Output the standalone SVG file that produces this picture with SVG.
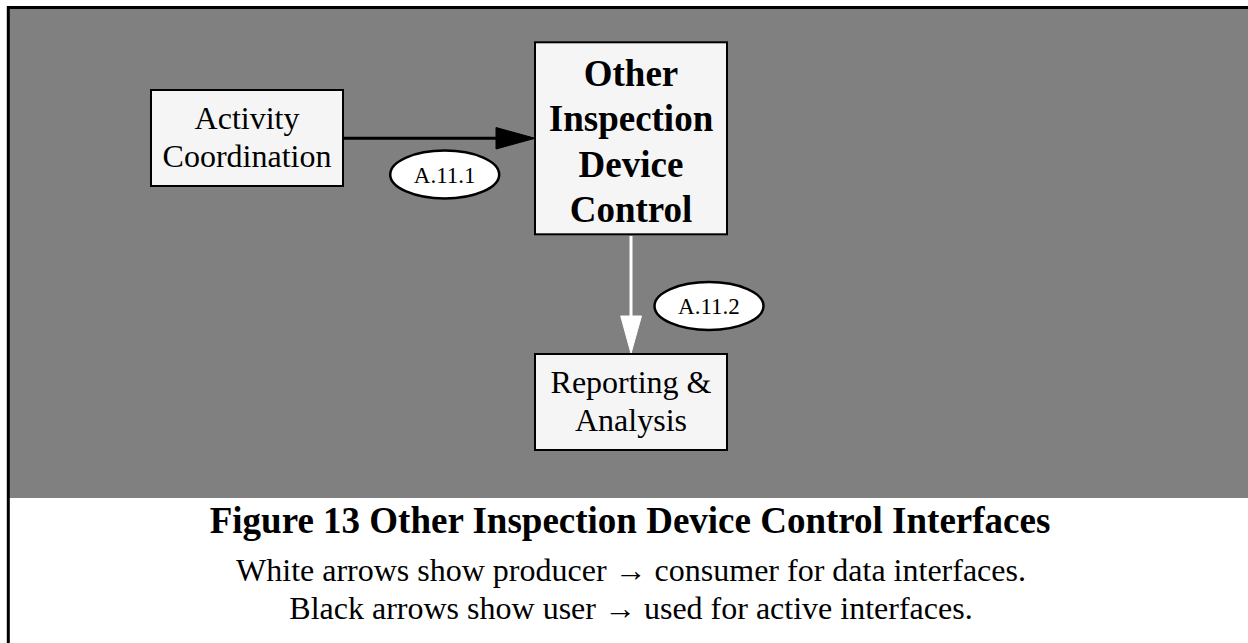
<svg xmlns="http://www.w3.org/2000/svg" width="1248" height="643" viewBox="0 0 1248 643">
<defs>
<style>
.box{fill:#f5f5f5;stroke:#000;stroke-width:2}
.lbl{fill:#fff;stroke:#000;stroke-width:2.5}
.t{font-family:"Liberation Serif","Times New Roman",serif;fill:#000;text-anchor:middle}
.reg{font-size:32px}
.bold{font-size:37px;font-weight:bold}
.small{font-size:23px}
</style>
</defs>
<rect x="0" y="0" width="1248" height="643" fill="#fff"/>
<rect x="9" y="9" width="1239" height="489" fill="#808080"/>
<path d="M8.3 643 V7.5 H1248" fill="none" stroke="#000" stroke-width="3"/>
<g id="connectors">
<g id="edge-a111">
<line x1="343" y1="138.3" x2="497" y2="138.3" stroke="#000" stroke-width="3"/>
<polygon points="496,127.5 535,138.3 496,149" fill="#000" stroke="#000" stroke-width="1"/>
</g>
<g id="edge-a112">
<line x1="631" y1="236" x2="631" y2="317" stroke="#fff" stroke-width="3"/>
<polygon points="620.7,316 641.5,316 631,353.5" fill="#fff" stroke="#fff" stroke-width="1"/>
</g>
</g>
<g id="node-activity">
<rect class="box" x="151" y="90" width="192" height="96"/>
<text class="t reg" x="247" y="129">Activity</text>
<text class="t reg" x="247" y="167.3">Coordination</text>
</g>
<g id="node-oidc">
<rect class="box" x="535" y="42.3" width="192" height="192"/>
<text class="t bold" x="631" y="86">Other</text>
<text class="t bold" x="631" y="130.7">Inspection</text>
<text class="t bold" x="631" y="176.5">Device</text>
<text class="t bold" x="631" y="221.7">Control</text>
</g>
<g id="node-reporting">
<rect class="box" x="535" y="354" width="192" height="96"/>
<text class="t reg" x="631" y="393.3">Reporting &amp;</text>
<text class="t reg" x="631" y="431">Analysis</text>
</g>
<g id="label-a111">
<ellipse class="lbl" cx="444.7" cy="174.5" rx="54.5" ry="24"/>
<text class="t small" x="444.7" y="182.5">A.11.1</text>
</g>
<g id="label-a112">
<ellipse class="lbl" cx="709" cy="306" rx="54.5" ry="24"/>
<text class="t small" x="709" y="314">A.11.2</text>
</g>
<g id="caption">
<text class="t" x="630" y="533.3" style="font-size:37px;font-weight:bold">Figure 13 Other Inspection Device Control Interfaces</text>
<text class="t" x="631" y="581" style="font-size:32px">White arrows show producer → consumer for data interfaces.</text>
<text class="t" x="631" y="619" style="font-size:32px">Black arrows show user → used for active interfaces.</text>
</g>
</svg>
